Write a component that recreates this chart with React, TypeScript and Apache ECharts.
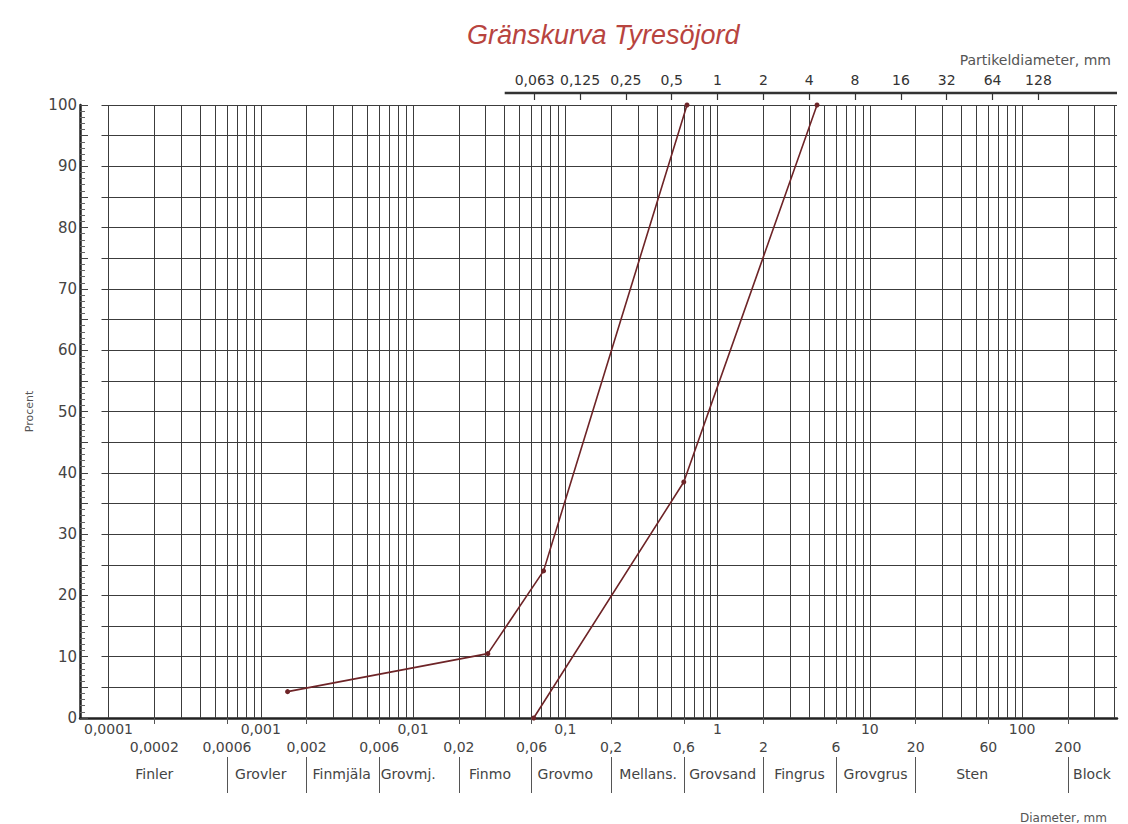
import React, { useEffect, useRef } from "react";
import * as echarts from "echarts";

const TITLE = "Gränskurva Tyresöjord";
const TOP_AXIS_NAME = "Partikeldiameter, mm";
const BOTTOM_AXIS_NAME = "Diameter, mm";
const Y_NAME = "Procent";

const X_MIN = 0.000065;
const X_MAX = 420;

// Fine limit curve (left)
const FINE_D = [0.0015, 0.031, 0.072, 0.63];
const FINE_P = [4.3, 10.5, 24, 100];
// Coarse limit curve (right)
const COARSE_D = [0.062, 0.6, 4.5];
const COARSE_P = [0, 38.5, 100];

// bottom label rows
const ROW1_VALUES = [0.0001, 0.001, 0.01, 0.1, 1, 10, 100];
const ROW1_LABELS = ["0,0001", "0,001", "0,01", "0,1", "1", "10", "100"];
const ROW2_VALUES = [0.0002, 0.0006, 0.002, 0.006, 0.02, 0.06, 0.2, 0.6, 2, 6, 20, 60, 200];
const ROW2_LABELS = ["0,0002", "0,0006", "0,002", "0,006", "0,02", "0,06", "0,2", "0,6", "2", "6", "20", "60", "200"];

// top axis
const TOP_VALUES = [0.063, 0.125, 0.25, 0.5, 1, 2, 4, 8, 16, 32, 64, 128];
const TOP_LABELS = ["0,063", "0,125", "0,25", "0,5", "1", "2", "4", "8", "16", "32", "64", "128"];

// soil classes
const CLASS_NAMES = ["Finler", "Grovler", "Finmjäla", "Grovmj.", "Finmo", "Grovmo", "Mellans.", "Grovsand", "Fingrus", "Grovgrus", "Sten", "Block"];
const CLASS_POS = [0.0002, 0.001, 0.0034, 0.0093, 0.032, 0.1, 0.35, 1.08, 3.45, 10.9, 47, 288];
const CLASS_BOUNDS = [0.0006, 0.002, 0.006, 0.02, 0.06, 0.2, 0.6, 2, 6, 20, 200];

// grid
const GRID_DECADES = [0.0001, 0.001, 0.01, 0.1, 1, 10, 100];
const GRID_MULTS = [1, 2, 3, 4, 5, 6, 7, 8, 9];
const PERCENT_LINES = [5, 10, 15, 20, 25, 30, 35, 40, 45, 50, 55, 60, 65, 70, 75, 80, 85, 90, 95, 100];
const H_LINE_START = 0.00009;
const TOP_LINE_START = 0.04;

const FONT = "DejaVu Sans";
const TEXT_COLOR = "#444";
const CURVE_COLOR = "#6e2427";

function nearestLabel(v: number, values: number[], labels: string[]) {
  let best = 0;
  let bestD = Infinity;
  values.forEach((x, i) => {
    const d = Math.abs(Math.log10(x) - Math.log10(v));
    if (d < bestD) {
      bestD = d;
      best = i;
    }
  });
  return labels[best];
}

export default function App() {
  const ref = useRef<HTMLDivElement>(null);

  useEffect(() => {
    if (!ref.current) return;
    const chart = echarts.init(ref.current, undefined, { renderer: "svg" });

    const verticals: number[] = [];
    GRID_DECADES.forEach((d) =>
      GRID_MULTS.forEach((m) => {
        const v = d * m;
        if (v <= X_MAX) verticals.push(v);
      })
    );

    const baseLog = {
      type: "log" as const,
      logBase: 10,
      min: X_MIN,
      max: X_MAX,
      splitLine: { show: false },
      minorTick: { show: false },
      minorSplitLine: { show: false },
    };

    const option: any = {
      animation: false,
      backgroundColor: "#ffffff",
      title: [
        {
          text: TITLE,
          left: 462,
          top: 16,
          textStyle: { color: "#b8443f", fontSize: 27, fontWeight: "normal", fontStyle: "italic", fontFamily: "Liberation Sans" },
        },
        {
          text: TOP_AXIS_NAME,
          right: 12,
          top: 48,
          textStyle: { color: "#555", fontSize: 14, fontWeight: "normal", fontFamily: FONT },
        },
        {
          text: BOTTOM_AXIS_NAME,
          right: 16,
          top: 807,
          textStyle: { color: "#555", fontSize: 12, fontWeight: "normal", fontFamily: FONT },
        },
      ],
      grid: { left: 80, right: 11, top: 105, bottom: 106, containLabel: false },
      xAxis: [
        {
          ...baseLog,
          position: "bottom",
          axisLine: { show: true, lineStyle: { color: "#222", width: 2.5 } },
          axisTick: { show: true, customValues: ROW2_VALUES, length: 6, lineStyle: { color: "#555" } },
          axisLabel: {
            customValues: ROW1_VALUES,
            formatter: (v: number) => nearestLabel(v, ROW1_VALUES, ROW1_LABELS),
            margin: 4,
            fontSize: 14,
            color: TEXT_COLOR,
            fontFamily: FONT,
          },
        },
        {
          ...baseLog,
          position: "top",
          offset: 12,
          axisLine: { show: false },
          axisTick: { show: true, customValues: TOP_VALUES, inside: true, length: 7, lineStyle: { color: "#333", width: 1.2 } },
          axisLabel: {
            customValues: TOP_VALUES,
            formatter: (v: number) => nearestLabel(v, TOP_VALUES, TOP_LABELS),
            margin: 6,
            fontSize: 14,
            color: "#333",
            fontFamily: FONT,
          },
        },
        {
          ...baseLog,
          position: "bottom",
          offset: 20,
          axisLine: { show: false },
          axisTick: { show: false },
          axisLabel: {
            customValues: ROW2_VALUES,
            formatter: (v: number) => nearestLabel(v, ROW2_VALUES, ROW2_LABELS),
            margin: 2,
            fontSize: 14,
            color: TEXT_COLOR,
            fontFamily: FONT,
          },
        },
        {
          ...baseLog,
          position: "bottom",
          offset: 39,
          axisLine: { show: false },
          axisTick: { show: true, customValues: CLASS_BOUNDS, length: 36, lineStyle: { color: "#555", width: 1 } },
          axisLabel: {
            customValues: CLASS_POS,
            formatter: (v: number) => nearestLabel(v, CLASS_POS, CLASS_NAMES),
            margin: 10,
            fontSize: 14,
            color: TEXT_COLOR,
            fontFamily: FONT,
          },
        },
      ],
      yAxis: {
        type: "value",
        min: 0,
        max: 100,
        interval: 5,
        name: Y_NAME,
        nameLocation: "middle",
        nameGap: 45,
        nameTextStyle: { fontSize: 11, color: "#555", fontFamily: FONT },
        axisLine: { show: true, lineStyle: { color: "#222", width: 2.5 } },
        axisTick: { show: true, inside: true, length: 8, lineStyle: { color: "#444" } },
        minorTick: { show: true, splitNumber: 5, length: 5, lineStyle: { color: "#666" } },
        axisLabel: {
          formatter: (v: number) => (v % 10 === 0 ? String(v) : ""),
          margin: 3,
          fontSize: 15,
          color: TEXT_COLOR,
          fontFamily: FONT,
        },
        splitLine: { show: false },
      },
      series: [
        {
          type: "line",
          name: "grid",
          data: [],
          silent: true,
          xAxisIndex: 0,
          yAxisIndex: 0,
          markLine: {
            silent: true,
            precision: 12,
            symbol: ["none", "none"],
            label: { show: false },
            emphasis: { disabled: true },
            lineStyle: { color: "#3c3c3c", width: 1, type: "solid" },
            data: [
              ...verticals.map((v) => ({ xAxis: v })),
              ...PERCENT_LINES.map((p) => [{ coord: [H_LINE_START, p] }, { coord: [X_MAX, p] }]),
            ],
          },
        },
        {
          type: "custom",
          name: "topAxisLine",
          xAxisIndex: 0,
          yAxisIndex: 0,
          silent: true,
          clip: false,
          data: [[TOP_LINE_START, X_MAX]],
          renderItem: (params: any, api: any) => {
            const p0 = api.coord([api.value(0), 100]);
            const p1 = api.coord([api.value(1), 100]);
            return {
              type: "line",
              shape: { x1: p0[0], y1: p0[1] - 12, x2: p1[0], y2: p1[1] - 12 },
              style: { stroke: "#333", lineWidth: 2.5 },
            };
          },
        },
        {
          type: "line",
          name: "fine",
          data: FINE_D.map((d, i) => [d, FINE_P[i]]),
          symbol: "circle",
          symbolSize: 5,
          lineStyle: { color: CURVE_COLOR, width: 1.6 },
          itemStyle: { color: CURVE_COLOR },
          z: 5,
        },
        {
          type: "line",
          name: "coarse",
          data: COARSE_D.map((d, i) => [d, COARSE_P[i]]),
          symbol: "circle",
          symbolSize: 5,
          lineStyle: { color: CURVE_COLOR, width: 1.6 },
          itemStyle: { color: CURVE_COLOR },
          z: 5,
        },
      ],
    };

    chart.setOption(option);
    return () => chart.dispose();
  }, []);

  return (
    <div
      ref={ref}
      style={{ position: "fixed", left: 0, top: 0, width: 1128, height: 824, background: "#fff" }}
    />
  );
}
